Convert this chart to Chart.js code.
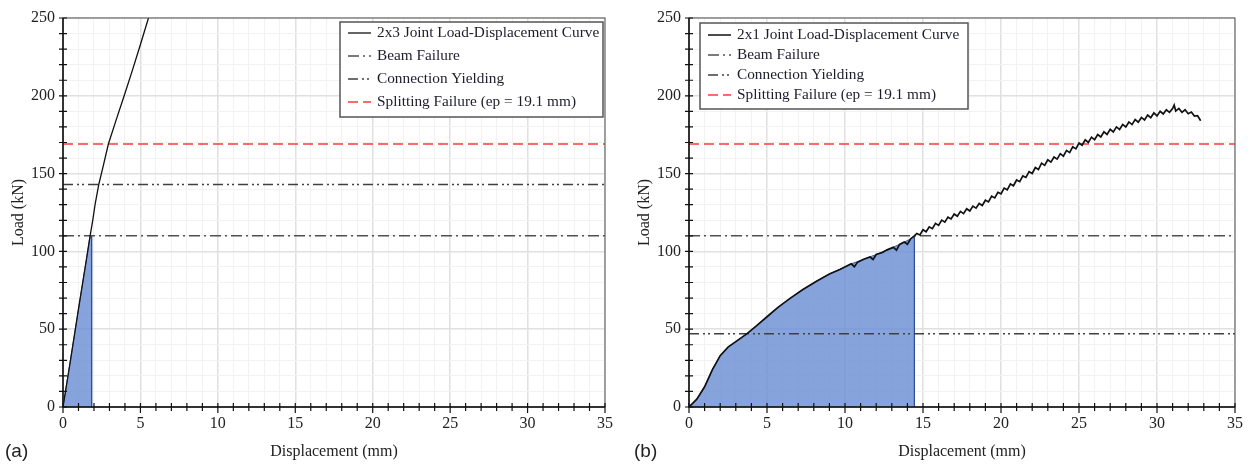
<!DOCTYPE html>
<html>
<head>
<meta charset="utf-8">
<script src="https://cdn.jsdelivr.net/npm/chart.js@4.4.0/dist/chart.umd.min.js"></script>
<style>
  body { margin: 0; background: #fff; }
  #wrap { position: relative; width: 1252px; height: 466px; }
  .box { position: absolute; top: 0; width: 626px; height: 466px; }
  #boxA { left: 0; }
  #boxB { left: 626px; }
  .tag { position: absolute; top: 440px; font: 19px "Liberation Sans", Arial, sans-serif; color: #222; }
</style>
</head>
<body>
<div id="wrap">
  <div class="box" id="boxA"><canvas id="chartA"></canvas></div>
  <div class="box" id="boxB"><canvas id="chartB"></canvas></div>
  <div class="tag" style="left:5px">(a)</div>
  <div class="tag" style="left:634px">(b)</div>
</div>
<script>
// ---- data ----
const beamFailure = 110;
const splitting = 169;
const yieldingA = 143;
const yieldingB = 47;

// (a) 2x3 joint
const leftX = [0, 0.5, 1.0, 1.5, 1.75, 1.92, 2.07, 2.31, 2.6, 2.93, 3.45, 3.95, 4.5, 5.0, 5.52];
const leftY = [0, 31, 63, 94, 110, 120, 130, 143, 155, 169, 185, 200, 217, 233, 250];
const leftFillX = [0, 1.75, 1.85, 1.85];
const leftFillY = [0, 110, 110, 0];

// (b) 2x1 joint
const rightX = [0, 0.5, 1, 1.5, 2, 2.5, 3, 3.7, 4.3, 5, 5.7, 6.5, 7.3, 8.2, 9, 9.7, 10.4, 10.6, 10.8, 11.2, 11.6, 11.8, 12, 12.4, 12.7, 13.1, 13.3, 13.5, 13.8, 14.0, 14.2, 14.45,
  14.6, 14.8, 15.0, 15.2, 15.4, 15.6, 15.8, 16.0, 16.2, 16.4, 16.6, 16.8, 17.0, 17.2, 17.4, 17.6, 17.8, 18.0, 18.2, 18.4, 18.6, 18.8,
  19.0, 19.2, 19.4, 19.6, 19.8, 20.0, 20.2, 20.4, 20.6, 20.8, 21.0, 21.2, 21.4, 21.6, 21.8, 22.0, 22.2, 22.4, 22.6, 22.8,
  23.0, 23.2, 23.4, 23.6, 23.8, 24.0, 24.2, 24.4, 24.6, 24.8, 25.0, 25.2, 25.4, 25.6, 25.8, 26.0, 26.2, 26.4, 26.6, 26.8,
  27.0, 27.2, 27.4, 27.6, 27.8, 28.0, 28.2, 28.4, 28.6, 28.8, 29.0, 29.2, 29.4, 29.6, 29.8, 30.0, 30.2, 30.4, 30.6, 30.8,
  31.0, 31.1, 31.2, 31.4, 31.6, 31.8, 32.0, 32.2, 32.4, 32.6, 32.8];
const rightY = [0, 5, 13, 24, 33, 38.5, 42, 47, 52, 58, 64, 70, 75.5, 81, 85.5, 88.5, 92, 90.2, 93, 95, 96.4, 94.8, 98, 99.3, 101, 102.6, 100.8, 104.5, 106, 104.6, 108, 110,
  111.5, 110.6, 113.9, 112.6, 115.8, 114.6, 118.0, 116.7, 120.1, 118.8, 122.0, 120.9, 124.0, 122.6, 125.7, 124.3, 127.4, 126.0, 129.1, 127.8, 130.8, 129.5,
  132.9, 131.8, 135.5, 134.4, 138.0, 137.0, 140.7, 139.6, 143.3, 142.2, 145.9, 144.8, 148.5, 147.5, 151.3, 150.1, 153.9, 152.6, 156.7, 155.3,
  158.9, 157.4, 160.7, 159.3, 162.8, 161.2, 164.9, 163.5, 167.2, 165.9, 169.6, 168.2, 171.7, 170.0, 173.4, 171.8, 175.1, 173.5, 176.9, 175.2,
  178.5, 176.8, 180.0, 178.4, 181.6, 180.0, 183.2, 181.5, 184.7, 183.0, 186.1, 184.5, 187.6, 185.9, 189.0, 187.1, 190.0, 188.3, 191.0, 189.4,
  191.8, 194.0, 190.2, 191.9, 189.4, 191.0, 188.5, 189.6, 187.0, 187.2, 184.0];
const rightFillX = [0, 0.5, 1, 1.5, 2, 2.5, 3, 3.7, 4.3, 5, 5.7, 6.5, 7.3, 8.2, 9, 9.7, 10.4, 11.2, 12, 12.7, 13.5, 14.2, 14.45, 14.45];
const rightFillY = [0, 5, 13, 24, 33, 38.5, 42, 47, 52, 58, 64, 70, 75.5, 81, 85.5, 88.5, 92, 95, 98, 101, 104.5, 108, 110, 0];

const xRange = [0, 35];
const yRange = [0, 250];

// ---- styling ----
const serif = '"Liberation Serif", "Times New Roman", serif';
const majorGrid = '#e0e0e0';
const minorGrid = '#f2f2f2';
const fillBlue = 'rgba(104,140,210,0.8)';

const pts = (xs, ys) => xs.map((x, i) => ({ x: x, y: ys[i] }));
const hline = (v) => [{ x: xRange[0], y: v }, { x: xRange[1], y: v }];

const framePlugin = {
  id: 'frame',
  afterDatasetsDraw(chart) {
    const { ctx, chartArea: a, scales } = chart;
    ctx.save();
    ctx.strokeStyle = '#555';
    ctx.lineWidth = 1;
    ctx.strokeRect(a.left, a.top, a.right - a.left, a.bottom - a.top);
    ctx.strokeStyle = '#111';
    ctx.lineWidth = 1.5;
    ctx.beginPath();
    ctx.moveTo(a.left, a.top);
    ctx.lineTo(a.left, a.bottom);
    ctx.lineTo(a.right, a.bottom);
    ctx.stroke();
    ctx.lineWidth = 1.2;
    ctx.beginPath();
    scales.x.ticks.forEach(t => {
      const px = scales.x.getPixelForValue(t.value);
      ctx.moveTo(px, a.bottom - 4);
      ctx.lineTo(px, a.bottom + (t.value % 5 === 0 ? 6 : 4));
    });
    scales.y.ticks.forEach(t => {
      const py = scales.y.getPixelForValue(t.value);
      ctx.moveTo(a.left - 4, py);
      ctx.lineTo(a.left + 4, py);
    });
    ctx.stroke();
    ctx.restore();
  }
};

const boxLegendPlugin = {
  id: 'boxLegend',
  afterDraw(chart, args, opts) {
    const { ctx } = chart;
    ctx.save();
    ctx.fillStyle = '#fff';
    ctx.fillRect(opts.left, opts.top, opts.width, opts.height);
    ctx.strokeStyle = '#555';
    ctx.lineWidth = 1.5;
    ctx.strokeRect(opts.left, opts.top, opts.width, opts.height);
    ctx.font = '15.3px ' + serif;
    ctx.textBaseline = 'middle';
    let row = 0;
    chart.data.datasets.forEach(ds => {
      if (!ds.inLegend) return;
      const y = opts.top + opts.firstRow + row * opts.rowGap;
      ctx.strokeStyle = ds.borderColor;
      ctx.lineWidth = Math.min(ds.borderWidth, 1.5);
      ctx.setLineDash(ds.borderDash || []);
      ctx.beginPath();
      ctx.moveTo(opts.left + 8, y);
      ctx.lineTo(opts.left + 31, y);
      ctx.stroke();
      ctx.setLineDash([]);
      ctx.fillStyle = '#1c1c2c';
      ctx.fillText(ds.label, opts.left + 37, y);
      row++;
    });
    ctx.restore();
  }
};

function makeChart(id, curveLabel, curve, curveWidth, fill, yielding, padRight, legendBox) {
  return new Chart(document.getElementById(id).getContext('2d'), {
    type: 'line',
    data: {
      datasets: [
        { label: curveLabel, data: curve, inLegend: true, borderColor: '#111', borderWidth: curveWidth, pointRadius: 0, tension: 0, order: 1 },
        { label: 'Beam Failure', data: hline(beamFailure), inLegend: true, borderColor: '#505050', borderWidth: 1.5, borderDash: [11, 4, 2, 4], pointRadius: 0, order: 3 },
        { label: 'Connection Yielding', data: hline(yielding), inLegend: true, borderColor: '#404040', borderWidth: 1.5, borderDash: [10, 4, 2, 3, 2, 4], pointRadius: 0, order: 3 },
        { label: 'Splitting Failure (ep = 19.1 mm)', data: hline(splitting), inLegend: true, borderColor: '#ff3b3b', borderWidth: 1.5, borderDash: [10, 5], pointRadius: 0, order: 3 },
        { label: 'area', data: fill, inLegend: false, borderColor: 'rgba(45,75,150,0.9)', borderWidth: 1, backgroundColor: fillBlue, fill: 'origin', pointRadius: 0, tension: 0, order: 4 }
      ]
    },
    options: {
      responsive: true,
      maintainAspectRatio: false,
      animation: false,
      events: [],
      layout: { padding: { top: 18, right: padRight, left: 0, bottom: 0 } },
      scales: {
        x: {
          type: 'linear', min: xRange[0], max: xRange[1],
          afterFit: s => { s.height = 59; },
          ticks: {
            stepSize: 1, autoSkip: false, maxRotation: 0, padding: 7,
            color: '#222', font: { family: serif, size: 16 },
            callback: v => (v % 5 === 0 ? v : '')
          },
          grid: { drawTicks: false, color: c => (c.tick && c.tick.value % 5 === 0 ? majorGrid : minorGrid), lineWidth: c => (c.tick && c.tick.value % 5 === 0 ? 1.5 : 1) },
          border: { display: false },
          title: { display: true, text: 'Displacement (mm)', color: '#222', font: { family: serif, size: 16 }, padding: { top: 0, bottom: 5 } }
        },
        y: {
          min: yRange[0], max: yRange[1],
          afterFit: s => { s.width = 63; },
          ticks: {
            stepSize: 10, autoSkip: false, padding: 8,
            color: '#222', font: { family: serif, size: 16 },
            callback: v => (v % 50 === 0 ? v : '')
          },
          grid: { drawTicks: false, color: c => (c.tick && c.tick.value % 50 === 0 ? majorGrid : minorGrid), lineWidth: c => (c.tick && c.tick.value % 50 === 0 ? 1.5 : 1) },
          border: { display: false },
          title: { display: true, text: 'Load (kN)', color: '#222', font: { family: serif, size: 16 }, padding: { top: 9, bottom: 0 } }
        }
      },
      plugins: {
        legend: { display: false },
        tooltip: { enabled: false },
        boxLegend: legendBox
      }
    },
    plugins: [framePlugin, boxLegendPlugin]
  });
}

makeChart('chartA', '2x3 Joint Load-Displacement Curve', pts(leftX, leftY), 1.3, pts(leftFillX, leftFillY), yieldingA, 21,
  { left: 340, top: 22, width: 263, height: 95, firstRow: 11, rowGap: 23 });
makeChart('chartB', '2x1 Joint Load-Displacement Curve', pts(rightX, rightY), 1.7, pts(rightFillX, rightFillY), yieldingB, 17,
  { left: 74, top: 23, width: 268, height: 86, firstRow: 12, rowGap: 20 });
</script>
</body>
</html>
